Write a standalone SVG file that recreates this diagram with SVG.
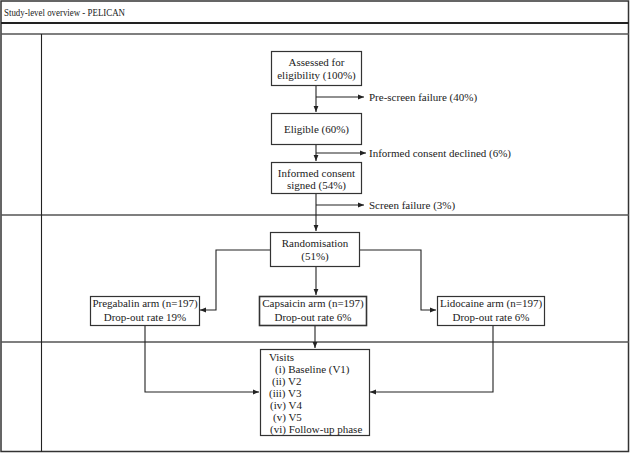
<svg xmlns="http://www.w3.org/2000/svg" width="630" height="453" viewBox="0 0 630 453">
<defs>
<style>
text{font-family:"Liberation Serif","DejaVu Serif",serif;font-size:11px;fill:#222}
.c{text-anchor:middle}
.box{fill:#fff;stroke:#333;stroke-width:1.2}
.frame{fill:none;stroke:#333;stroke-width:1.5}
.sep{stroke:#555;stroke-width:1.5}
.ln{fill:none;stroke:#222;stroke-width:1.1}
</style>
<marker id="ah" viewBox="0 0 10 10" refX="10" refY="5" markerWidth="6" markerHeight="6" markerUnits="userSpaceOnUse" orient="auto">
<path d="M0,1 L10,5 L0,9 z" fill="#222"/>
</marker>
</defs>
<rect width="630" height="453" fill="#fff"/>
<g id="frame">
<rect class="frame" x="1" y="1" width="627.5" height="450.5"/>
<line x1="1" y1="23" x2="629" y2="23" stroke="#222" stroke-width="2"/>
<line class="sep" x1="1" y1="34" x2="629" y2="34"/>
<line class="sep" x1="1" y1="215" x2="629" y2="215"/>
<line class="sep" x1="1" y1="342" x2="629" y2="342"/>
<line x1="41.5" y1="34" x2="41.5" y2="452" stroke="#222" stroke-width="1.1"/>
<text x="4" y="16" textLength="121" lengthAdjust="spacingAndGlyphs" style="font-size:10.5px">Study-level overview - PELICAN</text>
</g>
<g id="connectors">
<path class="ln" d="M316,86 V112" marker-end="url(#ah)"/>
<path class="ln" d="M316,97 H364" marker-end="url(#ah)"/>
<path class="ln" d="M316,145 V161" marker-end="url(#ah)"/>
<path class="ln" d="M316,153 H366" marker-end="url(#ah)"/>
<path class="ln" d="M316,194 V231" marker-end="url(#ah)"/>
<path class="ln" d="M316,205 H364" marker-end="url(#ah)"/>
<path class="ln" d="M270,250 H216 V310 H200" marker-end="url(#ah)"/>
<path class="ln" d="M316,267 V295" marker-end="url(#ah)"/>
<path class="ln" d="M360,250 H421 V310 H436" marker-end="url(#ah)"/>
<path class="ln" d="M145,326 V392 H259" marker-end="url(#ah)"/>
<path class="ln" d="M315,326 V348" marker-end="url(#ah)"/>
<path class="ln" d="M493,326 V392 H370" marker-end="url(#ah)"/>
<text x="369" y="101">Pre-screen failure (40%)</text>
<text x="369" y="157">Informed consent declined (6%)</text>
<text x="369" y="209">Screen failure (3%)</text>
</g>
<g id="assessed">
<rect class="box" x="271.5" y="51.5" width="90" height="34"/>
<text class="c" x="316.5" y="66">Assessed for</text>
<text class="c" x="316.5" y="79">eligibility (100%)</text>
</g>
<g id="eligible">
<rect class="box" x="271.5" y="113.5" width="90" height="31"/>
<text class="c" x="316.5" y="133">Eligible (60%)</text>
</g>
<g id="consent">
<rect class="box" x="271.5" y="162.5" width="90" height="31"/>
<text class="c" x="316.5" y="177">Informed consent</text>
<text class="c" x="316.5" y="189">signed (54%)</text>
</g>
<g id="randomisation">
<rect class="box" x="270.5" y="232.5" width="89" height="34"/>
<text class="c" x="315" y="247">Randomisation</text>
<text class="c" x="315" y="260">(51%)</text>
</g>
<g id="pregabalin">
<rect class="box" x="90.5" y="296.5" width="109" height="29"/>
<text class="c" x="145" y="307">Pregabalin arm (n=197)</text>
<text class="c" x="145" y="321">Drop-out rate 19%</text>
</g>
<g id="capsaicin">
<rect class="box" x="259.5" y="296.5" width="107" height="29" style="stroke-width:1.6"/>
<text class="c" x="313" y="307">Capsaicin arm (n=197)</text>
<text class="c" x="313" y="321">Drop-out rate 6%</text>
</g>
<g id="lidocaine">
<rect class="box" x="437.5" y="296.5" width="107" height="29"/>
<text class="c" x="491" y="307">Lidocaine arm (n=197)</text>
<text class="c" x="491" y="321">Drop-out rate 6%</text>
</g>
<g id="visits">
<rect class="box" x="260.5" y="349.5" width="109" height="86"/>
<text x="269" y="361">Visits</text>
<text x="275" y="373">(i) Baseline (V1)</text>
<text x="272" y="385">(ii) V2</text>
<text x="269" y="397">(iii) V3</text>
<text x="270" y="409">(iv) V4</text>
<text x="273" y="421">(v) V5</text>
<text x="270" y="433">(vi) Follow-up phase</text>
</g>
</svg>
